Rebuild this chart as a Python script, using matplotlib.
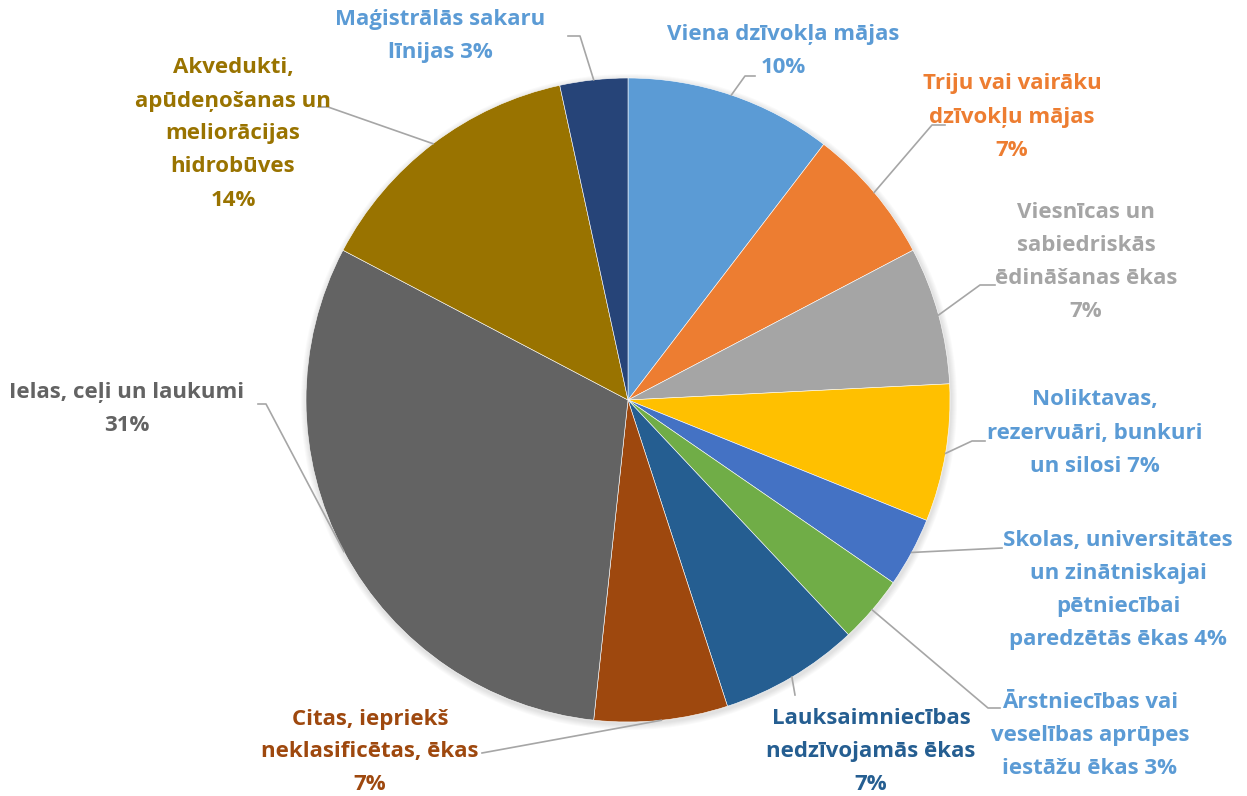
import numpy as np
import matplotlib
matplotlib.use("Agg")
import matplotlib.pyplot as plt

# slices, clockwise from 12 o'clock
labels = [
    "Viena dzīvokļa mājas\n10%",
    "Triju vai vairāku\ndzīvokļu mājas\n7%",
    "Viesnīcas un\nsabiedriskās\nēdināšanas ēkas\n7%",
    "Noliktavas,\nrezervuāri, bunkuri\nun silosi 7%",
    "Skolas, universitātes\nun zinātniskajai\npētniecībai\nparedzētās ēkas 4%",
    "Ārstniecības vai\nveselības aprūpes\niestāžu ēkas 3%",
    "Lauksaimniecības\nnedzīvojamās ēkas\n7%",
    "Citas, iepriekš\nneklasificētas, ēkas\n7%",
    "Ielas, ceļi un laukumi\n31%",
    "Akvedukti,\napūdeņošanas un\nmeliorācijas\nhidrobūves\n14%",
    "Maģistrālās sakaru\nlīnijas 3%",
]
shares = [10.4, 6.9, 6.9, 6.9, 3.5, 3.4, 7.0, 6.7, 31.0, 13.9, 3.4]
colors = ["#5B9BD5", "#ED7D31", "#A5A5A5", "#FFC000", "#4472C4", "#70AD47",
          "#255E91", "#9E480E", "#636363", "#997300", "#264478"]
text_colors = ["#5B9BD5", "#ED7D31", "#A5A5A5", "#5B9BD5", "#5B9BD5", "#5B9BD5",
               "#255E91", "#9E480E", "#636363", "#997300", "#5B9BD5"]

# layout in pixels from top-left: label centre, leader knee, leader end
label_pos = [(783, 51), (1012, 117), (1086, 262), (1095, 433), (1118, 590),
             (1090, 735), (871, 752), (370, 752), (127, 409), (233, 134), (440, 36)]
knees = [(745, 76), (932, 125), (980, 285), (972, 441), None,
         (988, 708), None, None, (266, 404), (328, 107), (580, 36)]
ends = [(755, 76), (945, 125), (995, 285), (985, 441), (1002, 548),
        (1000, 708), (795, 695), (482, 753), (258, 404), (318, 107), (568, 36)]

W, H = 1247, 796
cx, cy, R = 628, 400, 322


def px(p):
    return p[0], H - p[1]


fig = plt.figure(figsize=(W / 100, H / 100), dpi=100)
ax = fig.add_axes([0, 0, 1, 1])

# soft shadow
for i in range(6):
    ax.add_patch(plt.Circle((cx + 1, H - cy - 2), R + 1 + i, color="black",
                            alpha=0.02, lw=0))

wedges, _ = ax.pie(shares, colors=colors, startangle=90, counterclock=False,
                   center=(cx, H - cy), radius=R, frame=True,
                   wedgeprops=dict(edgecolor="white", linewidth=0.4))
ax.set_xlim(0, W)
ax.set_ylim(0, H)
ax.set_aspect("equal")
ax.axis("off")

for w, lab, tc, pos, knee, end in zip(wedges, labels, text_colors, label_pos, knees, ends):
    mid = np.deg2rad((w.theta1 + w.theta2) / 2)
    sx, sy = cx + R * np.cos(mid), H - cy + R * np.sin(mid)
    pts = [(sx, sy)] + ([px(knee)] if knee else []) + [px(end)]
    ax.plot([p[0] for p in pts], [p[1] for p in pts], color="#A6A6A6", lw=1.2, zorder=1)
    x, y = px(pos)
    ax.text(x, y, lab, color=tc, ha="center", va="center",
            multialignment="center", fontsize=16, fontweight="bold",
            family=["Open Sans", "DejaVu Sans"], linespacing=1.75)

fig.savefig("out.png", dpi=100)
